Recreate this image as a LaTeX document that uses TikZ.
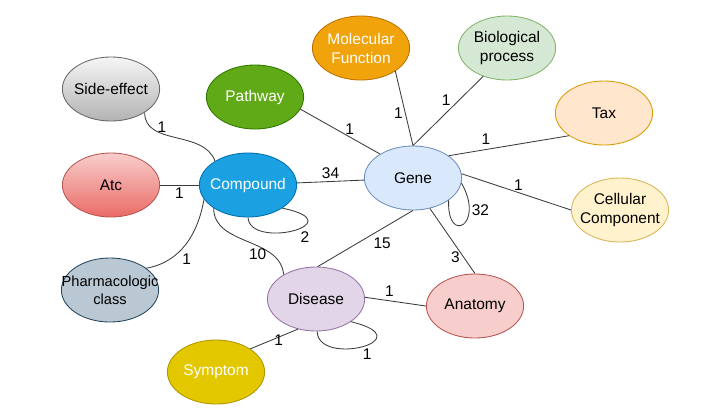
\documentclass[tikz,border=0pt]{standalone}
\usepackage{fontspec}
\setmainfont{Liberation Sans}
\usetikzlibrary{shapes.geometric}
\definecolor{lnkc}{HTML}{3A3A3A}
\definecolor{sfxt}{HTML}{F5F5F5}\definecolor{sfxb}{HTML}{B3B3B3}\definecolor{sfxd}{HTML}{666666}
\definecolor{pwf}{HTML}{60A917}\definecolor{pwd}{HTML}{2D7600}
\definecolor{atct}{HTML}{F8CECC}\definecolor{atcb}{HTML}{EA6B66}\definecolor{atcd}{HTML}{B85450}
\definecolor{cpdf}{HTML}{1BA1E2}\definecolor{cpdd}{HTML}{006EAF}
\definecolor{gnf}{HTML}{DAE8FC}\definecolor{gnd}{HTML}{6C8EBF}
\definecolor{mff}{HTML}{F0A30A}\definecolor{mfd}{HTML}{BD7000}
\definecolor{bpf}{HTML}{D5E8D4}\definecolor{bpd}{HTML}{82B366}
\definecolor{taxf}{HTML}{FFE6CC}\definecolor{taxd}{HTML}{D79B00}
\definecolor{ccf}{HTML}{FFF2CC}\definecolor{ccd}{HTML}{D6B656}
\definecolor{anaf}{HTML}{F8CECC}\definecolor{anad}{HTML}{B85450}
\definecolor{disf}{HTML}{E1D5E7}\definecolor{disd}{HTML}{9673A6}
\definecolor{phcf}{HTML}{BAC8D3}\definecolor{phcd}{HTML}{23445D}
\definecolor{symf}{HTML}{E3C800}\definecolor{symd}{HTML}{B09500}

\begin{document}
\begin{tikzpicture}[x=0.025cm,y=-0.025cm,
	ent/.style={ellipse,draw,line width=0.6pt,minimum width=2.43cm,minimum height=1.6cm,
		inner xsep=-12pt,inner ysep=-4pt,align=center,font=\fontsize{11}{13.5}\selectfont},
	lnk/.style={draw=lnkc,line width=0.6pt},
	num/.style={font=\fontsize{11}{13}\selectfont,inner sep=1.5pt}]
		\useasboundingbox (0,0) rectangle (720,409);
		\node[ent,top color=sfxt,bottom color=sfxb,draw=sfxd] (Sfx) at (111,89) {Side-effect};
		\node[ent,fill=pwf,draw=pwd,text=white] (Pw) at (255,97) {Pathway};
		\node[ent,top color=atct,bottom color=atcb,draw=atcd] (Atc) at (111,185) {Atc};
		\node[ent,fill=cpdf,draw=cpdd,text=white] (Cpd) at (248,185) {Compound};
		\node[ent,fill=gnf,draw=gnd] (Gn) at (413,178) {Gene};
		\node[ent,fill=mff,draw=mfd,text=white] (MF) at (361,48) {Molecular\\Function};
		\node[ent,fill=bpf,draw=bpd] (BP) at (507,48) {Biological\\process};
		\node[ent,fill=taxf,draw=taxd] (Tax) at (604,113) {Tax};
		\node[ent,fill=ccf,draw=ccd] (CC) at (620,210) {Cellular\\Component};
		\node[ent,fill=anaf,draw=anad] (Ana) at (475,306) {Anatomy};
		\node[ent,fill=disf,draw=disd] (Dis) at (316,299) {Disease};
		\node[ent,fill=phcf,draw=phcd,font=\fontsize{10.4}{13}\selectfont] (Phc) at (110,290) {Pharmacologic\\class};
		\node[ent,fill=symf,draw=symd,text=white] (Sym) at (216,372) {Symptom};
%
		\path[lnk]
			(Sfx.-35) edge[out=-90,in=110] node[num,pos=.2,right=3pt]{1} (Cpd.144)
			(Atc) edge node[num,below]{1} (Cpd)
			(Phc.31) edge[out=10,in=-100] node[num,pos=.4,below right]{1} (Cpd.-162)
			(Cpd) edge node[num,above]{34} (Gn)
			(Cpd.-146) edge[out=-90,in=95] node[num,pos=.6,below]{10} (Dis.143)
			(Pw.-15) edge node[num,pos=.62,above]{1} (Gn.144)
			(MF.-34) edge node[num,pos=.56,left]{1} (Gn.90)
			(BP.-130) edge node[num,pos=.35,left=4pt]{1} (Gn.90)
			(Tax.-147) edge node[num,pos=.69,above=2pt]{1} (Gn.32)
			(Gn.5) edge node[num,pos=.52,above]{1} (CC.180)
			(Gn.-61) edge node[num,pos=.75,left=1pt]{3} (Ana.90)
			(Gn.-90) edge node[num,pos=.44,below right]{15} (Dis.87)
			(Dis.2) edge node[num,pos=.4,above=1pt]{1} (Ana.180)
			(Dis.-121) edge node[num,pos=.55,right]{1} (Sym.34);
		\draw[lnk] (Cpd.-90) .. controls +(2,33) and +(73,15) .. node[num,pos=.55,below right]{2} (Cpd.-34);
		\draw[lnk] (Gn.-32) .. controls +(-2,45) and +(24,42) .. node[num,pos=.75,right]{32} (Gn.-6);
		\draw[lnk] (Dis.-88) .. controls +(1,36) and +(74,18) .. node[num,pos=.55,below=1pt]{1} (Dis.-33);
	\end{tikzpicture}
\end{document}
